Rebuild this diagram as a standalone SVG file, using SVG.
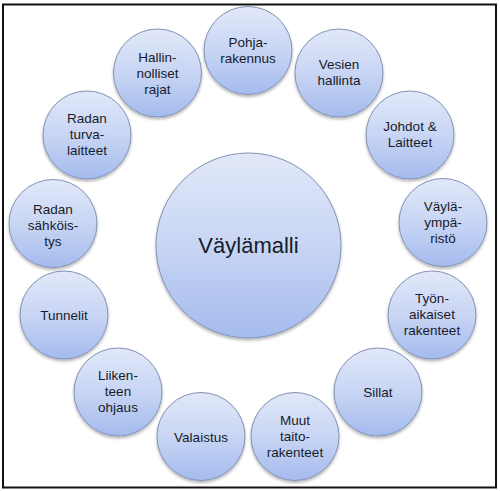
<svg xmlns="http://www.w3.org/2000/svg" width="500" height="491" viewBox="0 0 500 491">
<defs>
<linearGradient id="g" x1="0" y1="0" x2="0" y2="1">
<stop offset="0" stop-color="#e1e8f8"/>
<stop offset="0.5" stop-color="#c8d5f4"/>
<stop offset="1" stop-color="#a4bbee"/>
</linearGradient>
<filter id="sh" x="-20%" y="-20%" width="140%" height="150%">
<feGaussianBlur in="SourceAlpha" stdDeviation="1.5"/>
<feOffset dy="1.5" result="b"/>
<feComponentTransfer><feFuncA type="linear" slope="0.3"/></feComponentTransfer>
<feMerge><feMergeNode/><feMergeNode in="SourceGraphic"/></feMerge>
</filter>
</defs>
<style>
circle{fill:url(#g);stroke:#8492b6;stroke-width:1;filter:url(#sh)}
text{font-family:"Liberation Sans",Arial,sans-serif;font-size:13.5px;fill:#161c2b;text-anchor:middle}
.big{font-size:22px}
</style>
<rect x="3" y="4.5" width="493" height="483" fill="#fff" stroke="#111" stroke-width="2"/>
<g id="connectors"></g>
<g id="center"><circle cx="248.5" cy="245.5" r="92.5"/><text class="big" x="248.5" y="253">Väylämalli</text></g>
<g id="pohja"><circle cx="248" cy="50.5" r="44"/><text x="248" y="46.5">Pohja-</text><text x="248" y="62.5">rakennus</text></g>
<g id="vesien"><circle cx="339" cy="73" r="44"/><text x="339" y="69">Vesien</text><text x="339" y="85">hallinta</text></g>
<g id="johdot"><circle cx="410" cy="135" r="44"/><text x="410" y="131">Johdot &amp;</text><text x="410" y="147">Laitteet</text></g>
<g id="vaylaymparisto"><circle cx="443" cy="222.5" r="44"/><text x="443" y="210.5">Väylä-</text><text x="443" y="226.5">ympä-</text><text x="443" y="242.5">ristö</text></g>
<g id="tyonaikaiset"><circle cx="432" cy="315" r="44"/><text x="432" y="303">Työn-</text><text x="432" y="319">aikaiset</text><text x="432" y="335">rakenteet</text></g>
<g id="sillat"><circle cx="378" cy="392" r="44"/><text x="378" y="397">Sillat</text></g>
<g id="muut"><circle cx="295" cy="436.5" r="44"/><text x="295" y="424.5">Muut</text><text x="295" y="440.5">taito-</text><text x="295" y="456.5">rakenteet</text></g>
<g id="valaistus"><circle cx="201" cy="436.5" r="44"/><text x="201" y="441.5">Valaistus</text></g>
<g id="liikenteen"><circle cx="118" cy="392" r="44"/><text x="118" y="380">Liiken-</text><text x="118" y="396">teen</text><text x="118" y="412">ohjaus</text></g>
<g id="tunnelit"><circle cx="64" cy="315" r="44"/><text x="64" y="320">Tunnelit</text></g>
<g id="sahkoistys"><circle cx="53" cy="223.5" r="44"/><text x="53" y="213.5">Radan</text><text x="53" y="229.5">sähköis-</text><text x="53" y="245.5">tys</text></g>
<g id="turvalaitteet"><circle cx="87" cy="135" r="44"/><text x="87" y="123">Radan</text><text x="87" y="139">turva-</text><text x="87" y="155">laitteet</text></g>
<g id="hallinnolliset"><circle cx="157.5" cy="73" r="44"/><text x="157.5" y="61.5">Hallin-</text><text x="157.5" y="77.5">nolliset</text><text x="157.5" y="93.5">rajat</text></g>
</svg>
